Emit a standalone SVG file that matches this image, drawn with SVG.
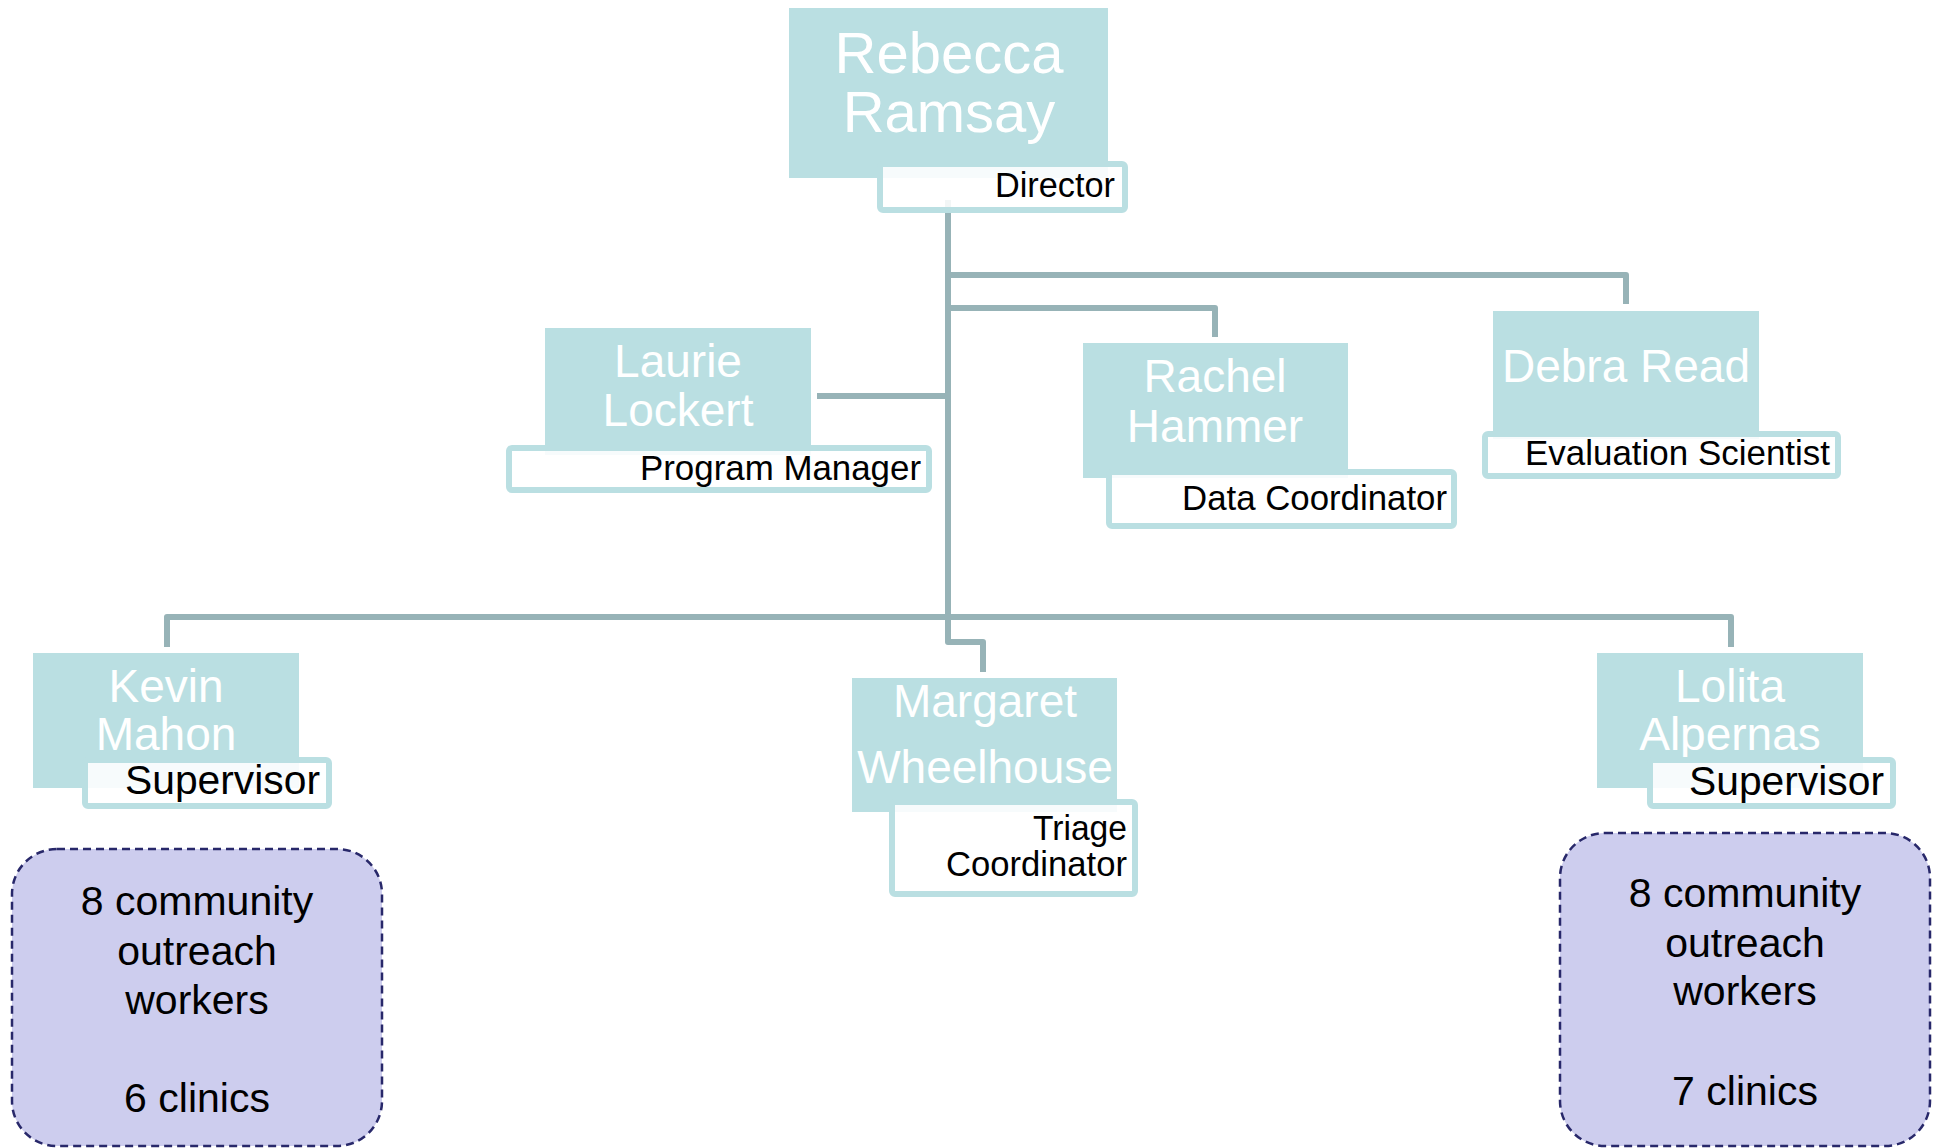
<svg xmlns="http://www.w3.org/2000/svg" width="1938" height="1148" viewBox="0 0 1938 1148">
<style>
.name{fill:#BADFE2}
.nt{font-family:"Liberation Sans",Arial,sans-serif;fill:#FFFFFF;font-size:46px;text-anchor:middle}
.lab{fill:#FFFFFF;fill-opacity:0.88;stroke:#BADFE2;stroke-width:6}
.lt{font-family:"Liberation Sans",Arial,sans-serif;fill:#000000;font-size:35px;text-anchor:end}
.con{fill:none;stroke:#97B3B7;stroke-width:6;stroke-linejoin:round}
.grp{fill:#CDCDEE;stroke:#28286A;stroke-width:2.5;stroke-dasharray:8 5}
.gt{font-family:"Liberation Sans",Arial,sans-serif;fill:#000000;font-size:41px;text-anchor:middle}
</style>
<rect width="1938" height="1148" fill="#FFFFFF"/>
<g id="connectors">
<path class="con" d="M948 200 V642 H983 V672"/>
<path class="con" d="M948 275 H1626 V304"/>
<path class="con" d="M948 308 H1215 V337"/>
<path class="con" d="M948 396 H817"/>
<path class="con" d="M167 647 V617 H1731 V647"/>
</g>
<g id="rebecca">
<rect class="name" x="789" y="8" width="319" height="170"/>
<text class="nt" x="949" y="73" style="font-size:58px">Rebecca</text>
<text class="nt" x="949" y="132" style="font-size:58px">Ramsay</text>
<rect class="lab" x="880" y="164" width="245" height="46" rx="3"/>
<text class="lt" x="1115" y="197" textLength="120" lengthAdjust="spacingAndGlyphs">Director</text>
</g>
<g id="laurie">
<rect class="name" x="545" y="328" width="266" height="127"/>
<text class="nt" x="678" y="377">Laurie</text>
<text class="nt" x="678" y="426">Lockert</text>
<rect class="lab" x="509" y="448" width="420" height="42" rx="3"/>
<text class="lt" x="921" y="480" textLength="281" lengthAdjust="spacingAndGlyphs">Program Manager</text>
</g>
<g id="rachel">
<rect class="name" x="1083" y="343" width="265" height="135"/>
<text class="nt" x="1215" y="392">Rachel</text>
<text class="nt" x="1215" y="442">Hammer</text>
<rect class="lab" x="1109" y="472" width="345" height="54" rx="3"/>
<text class="lt" x="1447" y="510" textLength="265" lengthAdjust="spacingAndGlyphs">Data Coordinator</text>
</g>
<g id="debra">
<rect class="name" x="1493" y="311" width="266" height="128"/>
<text class="nt" x="1626" y="382">Debra Read</text>
<rect class="lab" x="1485" y="434" width="353" height="42" rx="3"/>
<text class="lt" x="1830" y="465" textLength="305" lengthAdjust="spacingAndGlyphs">Evaluation Scientist</text>
</g>
<g id="kevin">
<rect class="name" x="33" y="653" width="266" height="135"/>
<text class="nt" x="166" y="702">Kevin</text>
<text class="nt" x="166" y="750">Mahon</text>
<rect class="lab" x="85" y="760" width="244" height="46" rx="3"/>
<text class="lt" x="320" y="794" textLength="195" lengthAdjust="spacingAndGlyphs" style="font-size:41px">Supervisor</text>
</g>
<g id="margaret">
<rect class="name" x="852" y="678" width="265" height="134"/>
<text class="nt" x="985" y="717">Margaret</text>
<text class="nt" x="985" y="783">Wheelhouse</text>
<rect class="lab" x="892" y="802" width="243" height="92" rx="3"/>
<text class="lt" x="1127" y="840" textLength="94" lengthAdjust="spacingAndGlyphs">Triage</text>
<text class="lt" x="1127" y="876" textLength="181" lengthAdjust="spacingAndGlyphs">Coordinator</text>
</g>
<g id="lolita">
<rect class="name" x="1597" y="653" width="266" height="135"/>
<text class="nt" x="1730" y="702">Lolita</text>
<text class="nt" x="1730" y="750">Alpernas</text>
<rect class="lab" x="1650" y="760" width="243" height="46" rx="3"/>
<text class="lt" x="1884" y="795" textLength="195" lengthAdjust="spacingAndGlyphs" style="font-size:41px">Supervisor</text>
</g>
<g id="team-left">
<rect class="grp" x="12" y="849" width="370" height="297" rx="45"/>
<text class="gt" x="197" y="915">8 community</text>
<text class="gt" x="197" y="965">outreach</text>
<text class="gt" x="197" y="1014">workers</text>
<text class="gt" x="197" y="1112">6 clinics</text>
</g>
<g id="team-right">
<rect class="grp" x="1560" y="833" width="370" height="313" rx="45"/>
<text class="gt" x="1745" y="907">8 community</text>
<text class="gt" x="1745" y="957">outreach</text>
<text class="gt" x="1745" y="1005">workers</text>
<text class="gt" x="1745" y="1105">7 clinics</text>
</g>
</svg>
